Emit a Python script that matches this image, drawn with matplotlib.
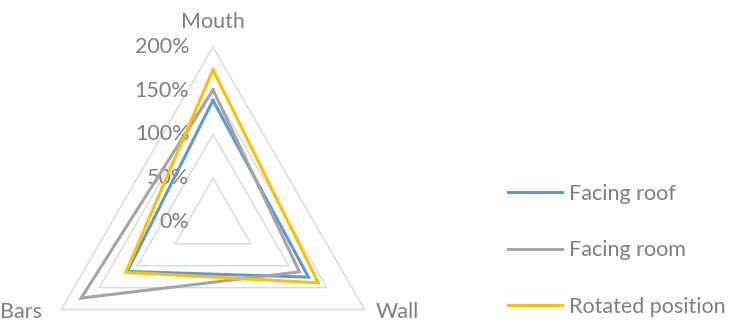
import matplotlib.pyplot as plt
import numpy as np

# axes of the radar (clockwise from top, as in Excel)
categories = ["Mouth", "Wall", "Bars"]
series_names = ["Facing roof", "Facing room", "Rotated position"]
facing_roof = [139, 126, 113]
facing_room = [151, 114, 174]
rotated_position = [174, 139, 115]
grid_levels = [0, 50, 100, 150, 200]
tick_labels = ["0%", "50%", "100%", "150%", "200%"]

colors = ["#5B9BD5", "#A5A5A5", "#FFC000"]
text_color = "#7F7F7F"
grid_color = "#D9D9D9"

plt.rcParams['font.family'] = ['Lato', 'DejaVu Sans']
fs = 15.5

# angle of each spoke: top, then clockwise
angles = np.deg2rad(90 - 360 / len(categories) * np.arange(len(categories)))


def to_xy(values):
    v = np.asarray(values, dtype=float)
    x = v * np.cos(angles)
    y = v * np.sin(angles)
    return np.append(x, x[0]), np.append(y, y[0])


fig = plt.figure(figsize=(7.35, 3.22), dpi=100)
ax = fig.add_axes([0, 0, 1, 1])
# 0.875 px per percent, centre at (213, 222) px
scale = 0.875
ax.set_xlim(-213 / scale, (735 - 213) / scale)
ax.set_ylim(-(322 - 222) / scale, 222 / scale)
ax.axis('off')

# grid triangles
for lvl in grid_levels[1:]:
    gx, gy = to_xy([lvl] * len(categories))
    ax.plot(gx, gy, color=grid_color, lw=1.0, zorder=1)

# tick labels along the top spoke
for lvl, lab in zip(grid_levels, tick_labels):
    ax.annotate(lab, (0, lvl), xytext=(-17, 0), textcoords='offset points',
                ha='right', va='center', fontsize=fs, color=text_color)

# series
for name, vals, c in zip(series_names, [facing_roof, facing_room, rotated_position], colors):
    sx, sy = to_xy(vals)
    ax.plot(sx, sy, color=c, lw=2.2, label=name, zorder=3, solid_joinstyle='miter')

# category labels at the outer vertices
outer = grid_levels[-1]
offsets = {"Mouth": (0, 18, 'center', 'center'),
           "Wall": (8, -2, 'left', 'center'),
           "Bars": (-14, -2, 'right', 'center')}
for cat, a in zip(categories, angles):
    dx, dy, ha, va = offsets[cat]
    ax.annotate(cat, (outer * np.cos(a), outer * np.sin(a)), xytext=(dx, dy),
                textcoords='offset points', ha=ha, va=va, fontsize=fs, color=text_color)

leg = ax.legend(loc='upper left', bbox_to_anchor=(0.680, 0.456), frameon=False,
                fontsize=fs, handlelength=2.5, handletextpad=0.3, labelspacing=1.7,
                borderaxespad=0)
for t in leg.get_texts():
    t.set_color(text_color)

fig.savefig("out.png", dpi=100)
